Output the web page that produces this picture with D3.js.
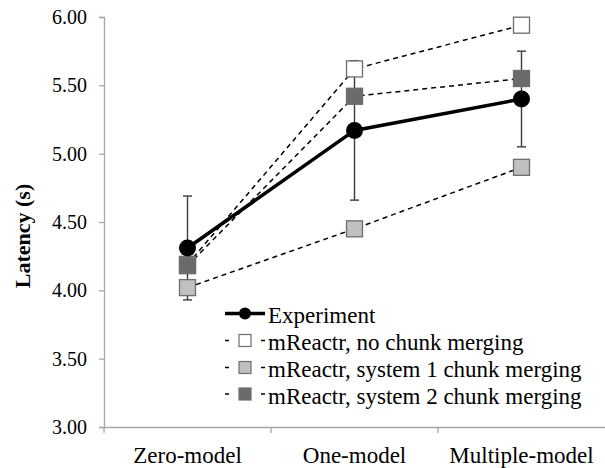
<!DOCTYPE html>
<html><head><meta charset="utf-8"><script src="https://cdn.jsdelivr.net/npm/d3@7"></script></head>
<body style="margin:0">
<svg id="chart" width="605" height="468"></svg>
<script>
const categories = ["Zero-model", "One-model", "Multiple-model"];
const experiment = [4.31, 5.17, 5.40];
const experimentErr = [0.38, 0.51, 0.35];
const noMerging = [4.19, 5.62, 5.94];
const system1Merging = [4.02, 4.45, 4.90];
const system2Merging = [4.18, 5.42, 5.55];
const yTicks = [3.00, 3.50, 4.00, 4.50, 5.00, 5.50, 6.00];
const seriesNames = ["Experiment", "mReactr, no chunk merging", "mReactr, system 1 chunk merging", "mReactr, system 2 chunk merging"];

const FONT = "Liberation Serif";

const svg = d3.select("#chart");
const x = d3.scaleBand().domain(categories).range([104, 605]).padding(0);
const y = d3.scaleLinear().domain([3, 6]).range([427, 17]);
const cx = c => x(c) + x.bandwidth() / 2;

const axisColor = "#a6a6a6";

// Y axis
const yAxis = svg.append("g").attr("transform", "translate(104,0)")
  .call(d3.axisLeft(y).tickValues(yTicks).tickFormat(d3.format(".2f")).tickSize(5).tickPadding(12));
yAxis.attr("font-family", null).attr("font-size", null);
yAxis.select(".domain").attr("stroke", axisColor).attr("stroke-width", 1.3);
yAxis.selectAll(".tick line").attr("stroke", axisColor).attr("stroke-width", 1.3);
yAxis.selectAll(".tick text").attr("fill", "#000").attr("font-family", FONT).attr("font-size", 20);

// X axis
const xAxis = svg.append("g").attr("transform", "translate(0,427)")
  .call(d3.axisBottom(x).tickSize(0).tickPadding(0));
xAxis.attr("font-family", null).attr("font-size", null);
xAxis.select(".domain").attr("stroke", axisColor).attr("stroke-width", 1.3);
xAxis.selectAll(".tick text").attr("fill", "#000").attr("font-family", FONT).attr("font-size", 23)
  .attr("dy", null).attr("y", 36);
const xBounds = [x(categories[0]), x(categories[1]), x(categories[2])];
xAxis.selectAll(".boundtick").data(xBounds).enter().append("line")
  .attr("x1", d => d).attr("x2", d => d).attr("y1", 0).attr("y2", 6)
  .attr("stroke", axisColor).attr("stroke-width", 1.3);

// Y label
svg.append("text")
  .attr("transform", "translate(30,236) rotate(-90)")
  .attr("text-anchor", "middle")
  .attr("font-family", FONT)
  .attr("font-size", 22).attr("font-weight", "bold")
  .text("Latency (s)");

// Error bars
const eb = svg.append("g");
categories.forEach((c, i) => {
  const top = y(experiment[i] + experimentErr[i]);
  const bot = y(experiment[i] - experimentErr[i]);
  eb.append("line").attr("x1", cx(c)).attr("x2", cx(c)).attr("y1", top).attr("y2", bot)
    .attr("stroke", "#3a3a3a").attr("stroke-width", 1.4);
  [top, bot].forEach(v => eb.append("line").attr("x1", cx(c) - 4.5).attr("x2", cx(c) + 4.5)
    .attr("y1", v).attr("y2", v).attr("stroke", "#3a3a3a").attr("stroke-width", 1.4));
});

const line = d3.line().x((d, i) => cx(categories[i])).y(d => y(d));

const modelSeries = [
  { data: noMerging, fill: "#ffffff" },
  { data: system1Merging, fill: "#c0c0c0" },
  { data: system2Merging, fill: "#6b6b6b" }
];

modelSeries.forEach(s => {
  svg.append("path").datum(s.data).attr("d", line)
    .attr("fill", "none").attr("stroke", "#000").attr("stroke-width", 1.5)
    .attr("stroke-dasharray", "5,4");
});
modelSeries.forEach(s => {
  svg.append("g").selectAll("rect").data(s.data).enter().append("rect")
    .attr("x", (d, i) => cx(categories[i]) - 8).attr("y", d => y(d) - 8)
    .attr("width", 16).attr("height", 16)
    .attr("fill", s.fill).attr("stroke", "#6e6e6e").attr("stroke-width", 1.3);
});

// Experiment
svg.append("path").datum(experiment).attr("d", line)
  .attr("fill", "none").attr("stroke", "#000").attr("stroke-width", 3.5);
svg.append("g").selectAll("circle").data(experiment).enter().append("circle")
  .attr("cx", (d, i) => cx(categories[i])).attr("cy", d => y(d)).attr("r", 8.5)
  .attr("fill", "#000");

// Legend
const legendBase = [323, 350, 377, 403.5];
const lg = svg.append("g");
seriesNames.forEach((name, i) => {
  const yy = legendBase[i] - 9.5;
  if (i === 0) {
    lg.append("line").attr("x1", 225).attr("x2", 265).attr("y1", yy).attr("y2", yy)
      .attr("stroke", "#000").attr("stroke-width", 3.5);
    lg.append("circle").attr("cx", 245).attr("cy", yy).attr("r", 6).attr("fill", "#000");
  } else {
    lg.append("line").attr("x1", 225).attr("x2", 265).attr("y1", yy).attr("y2", yy)
      .attr("stroke", "#000").attr("stroke-width", 1.3).attr("stroke-dasharray", "4,32");
    lg.append("rect").attr("x", 239).attr("y", yy - 6).attr("width", 12).attr("height", 12)
      .attr("fill", modelSeries[i - 1].fill).attr("stroke", "#6e6e6e").attr("stroke-width", 1.2);
  }
  lg.append("text").attr("x", 268).attr("y", legendBase[i]).attr("fill", "#000")
    .attr("font-family", FONT).attr("font-size", 23).text(name);
});
</script>
</body>
</html>
